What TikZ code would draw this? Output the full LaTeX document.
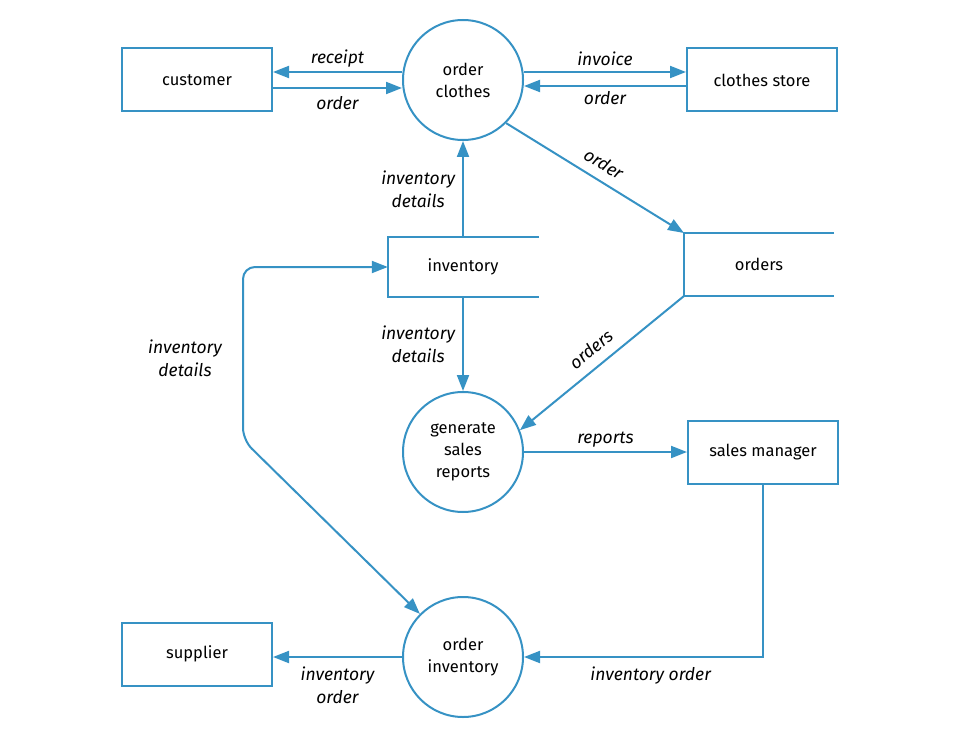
\documentclass[tikz,border=0pt]{standalone}
\usepackage{fontspec}
\setmainfont{Fira Sans}
\usetikzlibrary{arrows.meta}
\definecolor{flow}{RGB}{54,146,196}
\tikzset{
  every picture/.style={x=1pt,y=-1pt},
  ent/.style={draw=flow,line width=2pt,minimum width=150pt,minimum height=63pt,inner sep=0pt,font=\fontsize{16.5}{22}\selectfont},
  proc/.style={draw=flow,line width=2pt,circle,minimum size=120pt,inner sep=0pt,align=center,font=\fontsize{16.5}{22}\selectfont},
  store/.style={minimum width=150pt,minimum height=60pt,inner sep=0pt,font=\fontsize{16.5}{22}\selectfont},
  fl/.style={draw=flow,line width=2pt,-{Triangle[length=16pt,width=12pt]}},
  lab/.style={font=\itshape\fontsize{17.5}{23}\selectfont,align=center,inner sep=1pt}
}
\begin{document}
\begin{tikzpicture}
\useasboundingbox (0,0) rectangle (960,738);
% entities
\node[ent] (cust) at (197,80) {customer};
\node[ent] (store) at (762,80) {clothes store};
\node[ent] (sm) at (763,452) {sales manager};
\node[ent] (sup) at (197,654) {supplier};
% processes
\node[proc] (oc) at (463,80) {order\\clothes};
\node[proc] (gsr) at (463,452) {generate\\sales\\reports};
\node[proc] (oi) at (463,657) {order\\inventory};
% data stores
\node[store] (inv) at (463,267) {inventory};
\draw[flow,line width=2pt] (539,237) -- (388,237) -- (388,297) -- (539,297);
\node[store] (ord) at (759,264) {orders};
\draw[flow,line width=2pt] (834,233) -- (684,233) -- (684,296) -- (834,296);
\coordinate (ordtl) at (684,233);
\coordinate (ordbl) at (684,296);
% flows top
\draw[fl] (oc.west |- 0,72) -- (cust.east |- 0,72) node[lab,midway,above=3pt] {receipt};
\draw[fl] (cust.east |- 0,88) -- (oc.west |- 0,88) node[lab,midway,below=6pt] {order};
\draw[fl] (oc.east |- 0,72) -- (store.west |- 0,72) node[lab,midway,above=4pt] {invoice};
\draw[fl] (store.west |- 0,86) -- (oc.east |- 0,86) node[lab,midway,below=3pt] {order};
% order clothes -> orders
\draw[fl] (oc.-45) -- (ordtl) node[lab,pos=0.5,above=8pt,sloped] {order};
% inventory -> order clothes
\draw[fl] (463,237) -- (oc.south) node[lab,midway,left=6pt] {inventory\\details};
% inventory -> generate
\draw[fl] (463,297) -- (gsr.north) node[lab,midway,left=6pt] {inventory\\details};
% orders -> generate
\draw[fl] (ordbl) -- (gsr.21) node[lab,pos=0.5,above=9pt,sloped] {orders};
% reports
\draw[fl] (gsr.east) -- (sm.west) node[lab,midway,above=3pt] {reports};
% sales manager -> order inventory
\draw[fl] (sm.south) -- (763,657) -- (oi.east) node[lab,pos=0.47,below=8pt] {inventory order};
% order inventory -> supplier
\draw[fl] (oi.west) -- (sup.east |- oi.west) node[lab,midway,below=8pt] {inventory\\order};
% loop inventory details
\draw[draw=flow,line width=2pt,{Triangle[length=16pt,width=12pt]}-{Triangle[length=16pt,width=12pt]},rounded corners=12pt]
  (oi.135) -- (243,440) -- (243,267) -- (inv.west);
\node[lab] (ild) at (185,358) {inventory\\details};
\end{tikzpicture}
\end{document}
